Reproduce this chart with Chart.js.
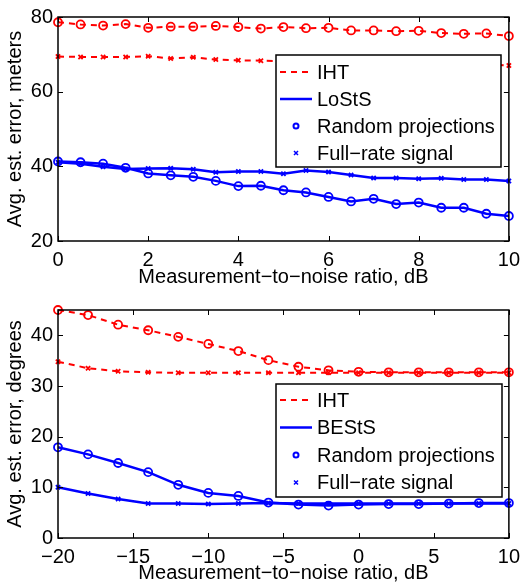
<!DOCTYPE html>
<html>
<head>
<meta charset="utf-8">
<script src="https://cdn.jsdelivr.net/npm/chart.js@4.4.0/dist/chart.umd.min.js"></script>
<style>
  html, body { margin: 0; padding: 0; background: #fff; }
  #wrap { position: relative; width: 527px; height: 586px; }
  canvas { position: absolute; left: 0; }
</style>
</head>
<body>
<div id="wrap">
  <canvas id="topChart" width="527" height="293" style="top:0px"></canvas>
  <canvas id="bottomChart" width="527" height="293" style="top:293px"></canvas>
</div>
<script>
// ================================
// Data
// ================================

// Top panel: error in meters vs. MNR 0..10 dB
const snrTop = [0, 0.5, 1, 1.5, 2, 2.5, 3, 3.5, 4, 4.5, 5, 5.5, 6, 6.5, 7, 7.5, 8, 8.5, 9, 9.5, 10];
const ihtRandomTop = [78.6, 78.0, 77.7, 78.1, 77.1, 77.4, 77.4, 77.6, 77.3, 76.9, 77.3, 77.0, 77.1, 76.4, 76.4, 76.2, 76.3, 75.7, 75.5, 75.6, 74.9];
const ihtFullTop = [69.4, 69.3, 69.3, 69.3, 69.5, 68.9, 69.2, 68.6, 68.4, 68.3, 68.2, 68.1, 68.0, 67.9, 67.8, 67.7, 67.6, 67.5, 67.4, 67.3, 67.0];
const lostsRandomTop = [41.3, 41.1, 40.7, 39.6, 38.1, 37.6, 37.2, 36.1, 34.7, 34.8, 33.6, 33.0, 31.8, 30.6, 31.3, 29.9, 30.3, 28.9, 28.9, 27.3, 26.7];
const lostsFullTop = [41.1, 40.7, 39.9, 39.3, 39.4, 39.5, 39.2, 38.4, 38.6, 38.6, 38.0, 38.9, 38.5, 37.7, 36.9, 36.9, 36.7, 36.8, 36.5, 36.5, 36.1];
const xTicksTop = [0, 2, 4, 6, 8, 10];
const yTicksTop = [20, 40, 60, 80];

// Bottom panel: error in degrees vs. MNR -20..10 dB
const snrBottom = [-20, -18, -16, -14, -12, -10, -8, -6, -4, -2, 0, 2, 4, 6, 8, 10];
const ihtRandomBottom = [45.0, 44.0, 42.1, 41.0, 39.7, 38.3, 36.9, 35.1, 33.8, 33.1, 32.8, 32.7, 32.7, 32.7, 32.7, 32.7];
const ihtFullBottom = [34.8, 33.5, 32.9, 32.7, 32.6, 32.6, 32.6, 32.6, 32.6, 32.6, 32.6, 32.6, 32.6, 32.6, 32.6, 32.6];
const bestsRandomBottom = [17.9, 16.5, 14.8, 13.0, 10.5, 8.9, 8.3, 7.0, 6.6, 6.4, 6.6, 6.7, 6.7, 6.8, 6.9, 6.9];
const bestsFullBottom = [10.0, 8.8, 7.7, 6.8, 6.8, 6.7, 6.8, 6.9, 6.8, 6.8, 6.8, 6.8, 6.8, 6.8, 6.8, 6.8];
const xTicksBottom = [-20, -15, -10, -5, 0, 5, 10];
const yTicksBottom = [0, 10, 20, 30, 40];

const legendTop = ['IHT', 'LoStS', 'Random projections', 'Full\u2212rate signal'];
const legendBottom = ['IHT', 'BEStS', 'Random projections', 'Full\u2212rate signal'];

const RED = '#ff0000';
const BLUE = '#0000ff';
const FONT = '"Liberation Sans", Arial, Helvetica, sans-serif';

Chart.defaults.font.family = FONT;
Chart.defaults.font.size = 20;
Chart.defaults.color = '#000';

// Helper: zip x and y arrays into points
function toPoints(xs, ys) {
    return xs.map((x, i) => ({ x: x, y: ys[i] }));
}

function fmtTick(v) {
    return v < 0 ? '\u2212' + Math.abs(v) : String(v);
}

// Matlab-like box, inward ticks and legend
const matlabFrame = {
    id: 'matlabFrame',
    afterDatasetsDraw(chart, args, opts) {
        const ctx = chart.ctx;
        const a = chart.chartArea;
        const xs = chart.scales.x;
        const ys = chart.scales.y;
        const tl = 5;

        ctx.save();

        // Legend box
        const lg = opts.legend;
        const bx = a.left + lg.left;
        const by = a.top + lg.top;
        ctx.fillStyle = '#fff';
        ctx.fillRect(bx, by, lg.width, lg.height);
        ctx.strokeStyle = '#000';
        ctx.lineWidth = 1.5;
        ctx.strokeRect(bx, by, lg.width, lg.height);

        ctx.font = '20px ' + FONT;
        ctx.textBaseline = 'middle';
        ctx.textAlign = 'left';
        lg.labels.forEach((label, i) => {
            const cy = by + lg.firstRow + i * lg.rowGap;
            const x0 = bx + 4, x1 = bx + 36;
            ctx.lineWidth = 2;
            if (i === 0) {
                ctx.strokeStyle = RED;
                ctx.setLineDash([6, 5]);
                ctx.beginPath(); ctx.moveTo(x0, cy); ctx.lineTo(x1, cy); ctx.stroke();
                ctx.setLineDash([]);
            } else if (i === 1) {
                ctx.strokeStyle = BLUE;
                ctx.lineWidth = 2.5;
                ctx.beginPath(); ctx.moveTo(x0, cy); ctx.lineTo(x1, cy); ctx.stroke();
            } else if (i === 2) {
                ctx.strokeStyle = BLUE;
                ctx.beginPath(); ctx.arc((x0 + x1) / 2, cy, 2.5, 0, Math.PI * 2); ctx.stroke();
            } else {
                ctx.strokeStyle = BLUE;
                ctx.lineWidth = 1.5;
                const cx = (x0 + x1) / 2, r = 2;
                ctx.beginPath();
                ctx.moveTo(cx - r, cy - r); ctx.lineTo(cx + r, cy + r);
                ctx.moveTo(cx + r, cy - r); ctx.lineTo(cx - r, cy + r);
                ctx.stroke();
            }
            ctx.fillStyle = '#000';
            ctx.fillText(label, bx + 41, cy + 1);
        });

        // Axes box
        ctx.strokeStyle = '#000';
        ctx.lineWidth = 1.5;
        ctx.strokeRect(a.left, a.top, a.right - a.left, a.bottom - a.top);

        // Inward ticks on all four sides
        ctx.lineWidth = 1;
        ctx.beginPath();
        xs.ticks.forEach(t => {
            const px = Math.round(xs.getPixelForValue(t.value)) + 0.5;
            ctx.moveTo(px, a.bottom); ctx.lineTo(px, a.bottom - tl);
            ctx.moveTo(px, a.top); ctx.lineTo(px, a.top + tl);
        });
        ys.ticks.forEach(t => {
            const py = Math.round(ys.getPixelForValue(t.value)) + 0.5;
            ctx.moveTo(a.left, py); ctx.lineTo(a.left + tl, py);
            ctx.moveTo(a.right, py); ctx.lineTo(a.right - tl, py);
        });
        ctx.stroke();
        ctx.restore();
    }
};

function lineSet(data, color, dashed, marker) {
    return {
        data: data,
        borderColor: color,
        backgroundColor: color,
        borderWidth: dashed ? 2 : 2.5,
        borderDash: dashed ? [6, 5] : [],
        pointStyle: marker === 'o' ? 'circle' : 'crossRot',
        pointRadius: marker === 'o' ? 4 : 3,
        pointBorderWidth: 1.8,
        pointBackgroundColor: 'rgba(0,0,0,0)',
        pointBorderColor: color,
        tension: 0,
        clip: false
    };
}

function buildChart(canvasId, cfg) {
    const ctx = document.getElementById(canvasId).getContext('2d');
    return new Chart(ctx, {
        type: 'line',
        data: { datasets: cfg.datasets },
        options: {
            responsive: false,
            animation: false,
            devicePixelRatio: 1,
            layout: { padding: { left: 3, right: 16, top: cfg.padTop, bottom: cfg.padBottom } },
            plugins: {
                legend: { display: false },
                tooltip: { enabled: false },
                matlabFrame: { legend: cfg.legend }
            },
            scales: {
                x: {
                    type: 'linear',
                    min: cfg.xMin,
                    max: cfg.xMax,
                    grid: { display: false, drawTicks: false },
                    border: { display: false },
                    afterBuildTicks: s => { s.ticks = cfg.xTicks.map(v => ({ value: v })); },
                    afterFit: s => { s.height = cfg.xHeight; },
                    ticks: { padding: 7, maxRotation: 0, autoSkip: false, callback: fmtTick },
                    title: { display: true, text: 'Measurement\u2212to\u2212noise ratio, dB', padding: 0 }
                },
                y: {
                    min: cfg.yMin,
                    max: cfg.yMax,
                    grid: { display: false, drawTicks: false },
                    border: { display: false },
                    afterBuildTicks: s => { s.ticks = cfg.yTicks.map(v => ({ value: v })); },
                    afterFit: s => { s.width = 55; },
                    ticks: { padding: 5, autoSkip: false, callback: fmtTick },
                    title: { display: true, text: cfg.yTitle, padding: 0 }
                }
            }
        },
        plugins: [matlabFrame]
    });
}

buildChart('topChart', {
    datasets: [
        lineSet(toPoints(snrTop, ihtRandomTop), RED, true, 'o'),
        lineSet(toPoints(snrTop, ihtFullTop), RED, true, 'x'),
        lineSet(toPoints(snrTop, lostsFullTop), BLUE, false, 'x'),
        lineSet(toPoints(snrTop, lostsRandomTop), BLUE, false, 'o')
    ],
    xMin: 0, xMax: 10, xTicks: xTicksTop,
    yMin: 20, yMax: 80, yTicks: yTicksTop,
    yTitle: 'Avg. est. error, meters',
    padTop: 13, padBottom: 4, xHeight: 48,
    legend: { left: 218, top: 38, width: 225, height: 112, firstRow: 17, rowGap: 27, labels: legendTop }
});

buildChart('bottomChart', {
    datasets: [
        lineSet(toPoints(snrBottom, ihtRandomBottom), RED, true, 'o'),
        lineSet(toPoints(snrBottom, ihtFullBottom), RED, true, 'x'),
        lineSet(toPoints(snrBottom, bestsFullBottom), BLUE, false, 'x'),
        lineSet(toPoints(snrBottom, bestsRandomBottom), BLUE, false, 'o')
    ],
    xMin: -20, xMax: 10, xTicks: xTicksBottom,
    yMin: 0, yMax: 45, yTicks: yTicksBottom,
    yTitle: 'Avg. est. error, degrees',
    padTop: 16, padBottom: 0.5, xHeight: 47.5,
    legend: { left: 218, top: 74, width: 226, height: 113, firstRow: 16, rowGap: 27.5, labels: legendBottom }
});
</script>
</body>
</html>
